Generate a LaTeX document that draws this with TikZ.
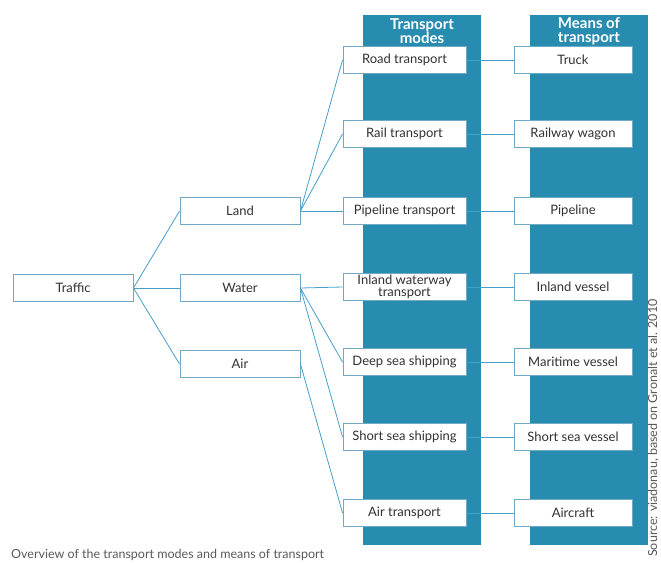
\documentclass[tikz,border=0pt]{standalone}
\usepackage{fontspec}
\setmainfont{Lato}
\definecolor{teal1}{RGB}{40,140,176}
\definecolor{line1}{RGB}{70,160,200}
\definecolor{boxline}{RGB}{110,170,195}
\definecolor{txt}{RGB}{50,50,50}
\definecolor{cap}{RGB}{90,90,90}
\begin{document}
\begin{tikzpicture}[x=1pt,y=-1pt,
  box/.style={draw=boxline,line width=0.9pt,fill=white,minimum height=27pt,inner sep=1pt,text=txt,font=\fontsize{13}{12.5}\selectfont,align=center},
  lbox/.style={box,minimum width=120pt},
  mbox/.style={box,minimum width=123pt},
  nbox/.style={box,minimum width=118pt},
  conn/.style={draw=line1,line width=0.8pt},
  hdr/.style={text=white,font=\bfseries\fontsize{15}{14}\selectfont,align=center}]
\useasboundingbox (0,0) rectangle (661,562);
\fill[white] (0,0) rectangle (661,562);
% columns
\fill[teal1] (363,15) rectangle (481,545);
\fill[teal1] (530,15) rectangle (648,545);
\node[hdr] (h1) at (422,31) {Transport\\modes};
\node[hdr] (h2) at (589,31) {Means of\\transport};
% left tree
\node[lbox] (traffic) at (73,288) {Traffic};
\node[lbox] (land) at (240,211) {Land};
\node[lbox] (water) at (240,288) {Water};
\node[lbox] (air) at (240,364) {Air};
% modes
\node[mbox] (road) at (404.5,60) {Road transport};
\node[mbox] (rail) at (404.5,134) {Rail transport};
\node[mbox] (pipe) at (404.5,211) {Pipeline transport};
\node[mbox] (inland) at (404.5,287) {Inland waterway\\transport};
\node[mbox] (deep) at (404.5,362) {Deep sea shipping};
\node[mbox] (short) at (404.5,437) {Short sea shipping};
\node[mbox] (airt) at (404.5,513) {Air transport};
% means
\node[nbox] (truck) at (573,60) {Truck};
\node[nbox] (wagon) at (573,134) {Railway wagon};
\node[nbox] (pipeline) at (573,211) {Pipeline};
\node[nbox] (ivessel) at (573,287) {Inland vessel};
\node[nbox] (mvessel) at (573,362) {Maritime vessel};
\node[nbox] (svessel) at (573,437) {Short sea vessel};
\node[nbox] (aircraft) at (573,513) {Aircraft};
% connectors
\draw[conn] (traffic.east) -- (land.west);
\draw[conn] (traffic.east) -- (water.west);
\draw[conn] (traffic.east) -- (air.west);
\draw[conn] (land.east) -- (road.west);
\draw[conn] (land.east) -- (rail.west);
\draw[conn] (land.east) -- (pipe.west);
\draw[conn] (water.east) -- (inland.west);
\draw[conn] (water.east) -- (deep.west);
\draw[conn] (water.east) -- (short.west);
\draw[conn] (air.east) -- (airt.west);
\draw[conn] (road.east) -- (truck.west);
\draw[conn] (rail.east) -- (wagon.west);
\draw[conn] (pipe.east) -- (pipeline.west);
\draw[conn] (inland.east) -- (ivessel.west);
\draw[conn] (deep.east) -- (mvessel.west);
\draw[conn] (short.east) -- (svessel.west);
\draw[conn] (airt.east) -- (aircraft.west);
% caption and source
\node[anchor=west,text=cap,font=\fontsize{12.5}{14}\selectfont,inner sep=0pt] (caption) at (11,555) {Overview of the transport modes and means of transport};
\node[rotate=90,anchor=base west,text=cap,font=\fontsize{12.5}{14}\selectfont,inner sep=0pt] (source) at (657,557) {Source: viadonau, based on Gronalt et al. 2010};
\end{tikzpicture}
\end{document}
